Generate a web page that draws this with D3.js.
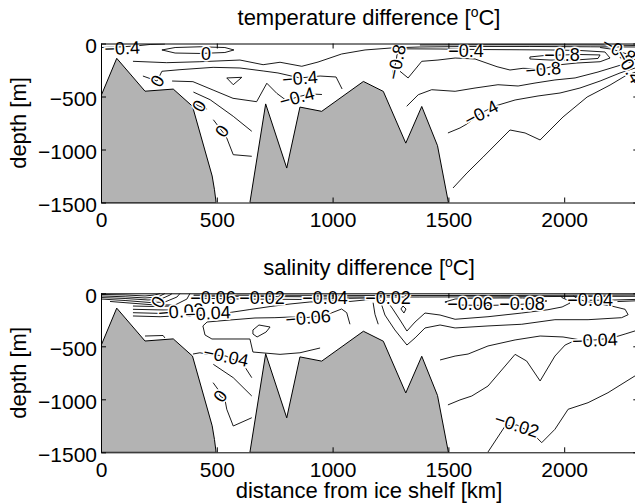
<!DOCTYPE html>
<html>
<head>
<meta charset="utf-8">
<script src="https://cdn.jsdelivr.net/npm/d3@7"></script>
<style>
  body { margin: 0; background: #fff; }
  text { font-family: Arial, "Liberation Sans", Helvetica, sans-serif; }
</style>
</head>
<body>
<script>

var xTicks = [0, 500, 1000, 1500, 2000];
var yTicks = [0, -500, -1000, -1500];

// bottom topography [km, m]
var bathyWest = [[0,-1500],[0,-495],[68,-140],[190,-450],[312,-430],[395,-592],[480,-1250],[490,-1380],[497,-1500]];
var bathyEast = [[643,-1500],[711,-570],[802,-1175],[859,-600],[953,-640],[1133,-358],[1219,-452],[1316,-940],[1385,-594],[1453,-964],[1500,-1500]];

// temperature difference contours [km, m]
var tempLines = [
  [[0,-38],[73,-33],[147,-24],[212,-9],[276,-5]],
  [[263,-61],[320,-38],[428,-31],[535,-38],[574,-61],[535,-85],[428,-94],[320,-90],[263,-61]],
  [[138,-168],[284,-181],[427,-172],[600,-156],[700,-200],[773,-177],[867,-215],[937,-175],[1039,-99],[1140,-61],[1255,-42],[1377,-33],[1593,-28],[1852,-28],[2112,-31],[2319,-33]],
  [[181,-307],[242,-354],[263,-262],[341,-247],[484,-225],[600,-231],[700,-259],[764,-278],[859,-325],[946,-307],[1015,-316],[1041,-429]],
  [[543,-325],[608,-319],[571,-389],[543,-325]],
  [[307,-354],[397,-360],[484,-439],[570,-517],[672,-549],[716,-375],[759,-470],[803,-542],[846,-505],[902,-476],[954,-481]],
  [[399,-458],[471,-530],[571,-687],[651,-828]],
  [[397,-561],[423,-590],[458,-618]],
  [[485,-719],[522,-825],[543,-892],[571,-1049],[651,-1064]],
  [[1257,-344],[1261,-259],[1274,-175],[1278,-108],[1291,-61]],
  [[1291,-262],[1326,-325],[1385,-168],[1455,-156],[1529,-137],[1615,-146],[1710,-219],[1766,-250],[1822,-234],[1909,-241],[1969,-203],[2055,-184],[2155,-172],[2198,-137],[2176,-80],[2068,-66],[1939,-61],[1809,-59],[1637,-57],[1464,-52],[1291,-50]],
  [[1852,-127],[1917,-113],[1991,-108],[2068,-104],[2155,-108],[2146,-141],[2047,-156],[1939,-156],[1852,-146],[1852,-127]],
  [[1377,-14],[1723,-12],[2155,-14],[2319,-19]],
  [[2155,-38],[2210,-55],[2250,-85],[2290,-110],[2319,-120]],
  [[1320,-592],[1370,-483],[1428,-436],[1529,-451],[1615,-420],[1714,-389],[1801,-401],[1874,-373],[1960,-344],[2047,-325],[2146,-269],[2245,-203],[2319,-137]],
  [[1498,-844],[1550,-797],[1580,-759],[1641,-656],[1701,-590],[1788,-533],[1887,-495],[1982,-467],[2068,-420],[2155,-354],[2241,-278],[2319,-222]],
  [[1520,-1363],[1580,-1222],[1650,-1071],[1766,-816],[1831,-844],[1896,-910],[1995,-693],[2099,-505],[2198,-392],[2263,-307],[2319,-260]]
];
// [text, km, m, angle]
var tempLabels = [
  ["\u22120.4", 91, -42, -3],
  ["0", 453, -94, 0],
  ["0", 242, -354, -60],
  ["\u22120.4", 859, -325, -5],
  ["\u22120.4", 846, -505, -15],
  ["0", 423, -590, -60],
  ["0", 522, -825, -55],
  ["\u22120.8", 1274, -175, -78],
  ["\u22120.8", 1909, -241, -5],
  ["\u22120.8", 1991, -108, 0],
  ["\u22120.4", 1576, -62, 0],
  ["\u22120.4", 1641, -656, -28],
  ["\u22120.8", 2237, -61, 30],
  ["\u22120.4", 2280, -215, 60]
];

// salinity difference contours [km, m]
var saltLines = [
  [[0,-11],[104,-16],[190,-25],[233,-16],[255,-2]],
  [[0,-25],[104,-33],[190,-44],[246,-35],[276,-2]],
  [[0,-40],[104,-49],[203,-63],[255,-58],[298,-16],[307,-2]],
  [[0,-54],[104,-68],[212,-87],[276,-82],[328,-35],[341,-2]],
  [[39,-77],[125,-92],[233,-110],[320,-110],[371,-54],[384,-2]],
  [[138,-120],[242,-125],[298,-120]],
  [[138,-151],[242,-156],[307,-158]],
  [[138,-183],[246,-189],[307,-186]],
  [[138,-214],[255,-221],[320,-214]],
  [[557,-181],[643,-153],[730,-125],[816,-101],[902,-82],[989,-73],[1075,-77],[1140,-63],[1205,-48]],
  [[946,-516],[859,-561],[773,-576],[656,-554],[643,-431],[479,-431],[449,-393],[440,-308],[458,-271],[557,-252],[665,-233],[751,-230],[816,-224],[894,-228],[980,-198],[1039,-148],[1061,-183],[1075,-292]],
  [[656,-346],[682,-299],[730,-318],[713,-365],[674,-412],[656,-384],[656,-346]],
  [[190,-403],[268,-398],[276,-421]],
  [[397,-573],[427,-561],[462,-576],[540,-592],[614,-670],[651,-796]],
  [[485,-670],[571,-796],[651,-969]],
  [[484,-843],[505,-906],[514,-969],[535,-1000],[543,-1094],[571,-1252],[651,-1174]],
  [[1175,-89],[1183,-198],[1197,-292]],
  [[1529,-110],[1671,-115],[1800,-106],[1890,-92],[1925,-73],[1900,-52],[1820,-44],[1723,-44],[1593,-47],[1529,-54],[1485,-82],[1529,-110]],
  [[1231,-63],[1257,-139],[1291,-252],[1321,-356],[1356,-271],[1399,-186],[1464,-205],[1529,-245],[1671,-221],[1817,-186],[1930,-155],[1991,-129],[2025,-92],[2010,-60],[1990,-40],[1985,-25]],
  [[1205,-63],[1226,-205],[1269,-346],[1321,-488],[1356,-421],[1399,-327],[1464,-299],[1529,-327],[1671,-308],[1817,-292],[1960,-249],[2103,-249],[2248,-230],[2276,-202],[2263,-151],[2205,-120],[2103,-82],[2060,-55],[2040,-25]],
  [[1304,-120],[1317,-148],[1308,-186],[1295,-148],[1304,-120]],
  [[1464,-629],[1529,-592],[1585,-573],[1671,-497],[1788,-440],[1896,-403],[1995,-412],[2060,-436],[2133,-440],[2207,-421],[2263,-384],[2319,-346]],
  [[1498,-1053],[1550,-1006],[1601,-969],[1671,-875],[1788,-576],[1838,-639],[1896,-827],[1960,-592],[2004,-488],[2047,-445]],
  [[1671,-1497],[1745,-1252],[1796,-1242],[1860,-1315],[1903,-1409],[1960,-1283],[2017,-1094],[2103,-1032],[2189,-938],[2319,-761]],
  [[400,-17],[643,-18],[1291,-21],[1723,-21],[2319,-16]],
  [[400,-26],[687,-30],[1075,-35],[1377,-35],[1723,-33],[1982,-30],[2319,-28]],
  [[420,-46],[600,-54],[859,-58],[1032,-49],[1140,-45],[1180,-32],[1230,-22]],
  [[2110,-66],[2200,-64],[2319,-57]],
  [[2230,-78],[2319,-70]]
];
var saltLabels = [
  ["0", 246, -82, -60],
  ["\u22120.02", 345, -167, -5],
  ["\u22120.04", 462, -186, -3],
  ["\u22120.06", 484, -44, 0],
  ["\u22120.02", 695, -40, 0],
  ["\u22120.04", 967, -40, 0],
  ["\u22120.02", 1239, -40, 0],
  ["\u22120.06", 894, -228, -5],
  ["\u22120.04", 540, -592, 12],
  ["0", 514, -969, -55],
  ["\u22120.06", 1593, -92, 0],
  ["\u22120.08", 1818, -92, 0],
  ["\u22120.04", 2112, -60, 0],
  ["\u22120.04", 2133, -440, -3],
  ["\u22120.02", 1796, -1242, 18]
];

var width = 635, height = 504;

var svg = d3.select("body").append("svg")
    .attr("width", width)
    .attr("height", height);

var x = d3.scaleLinear().domain([0, 2320]).range([101, 638.3]);

function panel(top, id, title, lines, labels) {
  var y = d3.scaleLinear().domain([0, -1500]).range([top, top + 159]);
  var line = d3.line()
      .x(function(d) { return x(d[0]); })
      .y(function(d) { return y(d[1]); });

  svg.append("clipPath").attr("id", id)
    .append("rect")
    .attr("x", x(0)).attr("y", y(0))
    .attr("width", x(2320) - x(0)).attr("height", y(-1500) - y(0));

  var plot = svg.append("g").attr("clip-path", "url(#" + id + ")");

  // contours
  plot.selectAll("path.c")
    .data(lines)
    .enter().append("path")
    .attr("class", "c")
    .attr("d", line)
    .attr("fill", "none")
    .attr("stroke", "#000")
    .attr("stroke-width", 0.9);

  // topography
  plot.selectAll("path.b")
    .data([bathyWest, bathyEast])
    .enter().append("path")
    .attr("class", "b")
    .attr("d", function(d) { return line(d) + "Z"; })
    .attr("fill", "#b3b3b3")
    .attr("stroke", "#000")
    .attr("stroke-width", 1);

  // contour labels
  svg.append("g").selectAll("text")
    .data(labels)
    .enter().append("text")
    .attr("transform", function(d) {
      return "translate(" + x(d[1]) + "," + y(d[2]) + ") rotate(" + d[3] + ")";
    })
    .attr("text-anchor", "middle")
    .attr("dy", "0.36em")
    .attr("font-size", 18)
    .attr("stroke", "#fff")
    .attr("stroke-width", 3)
    .attr("paint-order", "stroke")
    .attr("fill", "#000")
    .text(function(d) { return d[0]; });

  // axes, ticks inside
  var xAxis = d3.axisBottom(x).tickValues(xTicks).tickSizeInner(-5).tickSizeOuter(0)
      .tickPadding(10).tickFormat(d3.format("d"));
  var xTop = d3.axisTop(x).tickValues(xTicks).tickSizeInner(-5).tickSizeOuter(0).tickFormat("");
  var yAxis = d3.axisLeft(y).tickValues(yTicks).tickSizeInner(-5).tickSizeOuter(0)
      .tickPadding(4).tickFormat(d3.format("d"));
  var yRight = d3.axisRight(y).tickValues(yTicks).tickSizeInner(-5).tickSizeOuter(0).tickFormat("");

  var axes = [
    svg.append("g").attr("transform", "translate(0," + y(-1500) + ")").call(xAxis),
    svg.append("g").attr("transform", "translate(0," + y(0) + ")").call(xTop),
    svg.append("g").attr("transform", "translate(" + x(0) + ",0)").call(yAxis),
    svg.append("g").attr("transform", "translate(" + x(2320) + ",0)").call(yRight)
  ];
  axes.forEach(function(a) {
    a.attr("font-size", 21).attr("font-family", "Arial, 'Liberation Sans', sans-serif");
    a.selectAll("path, line").attr("stroke", "#000").attr("stroke-width", 1);
    a.selectAll("text").attr("fill", "#000");
  });
  axes[2].selectAll("text").attr("dy", "0.42em");

  // title with superscript o
  var t = svg.append("text")
      .attr("x", 369)
      .attr("y", top - 18.5)
      .attr("text-anchor", "middle")
      .attr("font-size", 22);
  t.append("tspan").text(title + " [");
  t.append("tspan").attr("dy", -8).attr("font-size", 14).text("o");
  t.append("tspan").attr("dy", 8).text("C]");

  svg.append("text")
    .attr("transform", "translate(26," + ((y(0) + y(-1500)) / 2) + ") rotate(-90)")
    .attr("text-anchor", "middle")
    .attr("font-size", 22)
    .text("depth [m]");
}

panel(43.5, "clipTemp", "temperature difference", tempLines, tempLabels);
panel(293.3, "clipSalt", "salinity difference", saltLines, saltLabels);

svg.append("text")
  .attr("x", 369)
  .attr("y", 498)
  .attr("text-anchor", "middle")
  .attr("font-size", 22)
  .text("distance from ice shelf [km]");

</script>
</body>
</html>
